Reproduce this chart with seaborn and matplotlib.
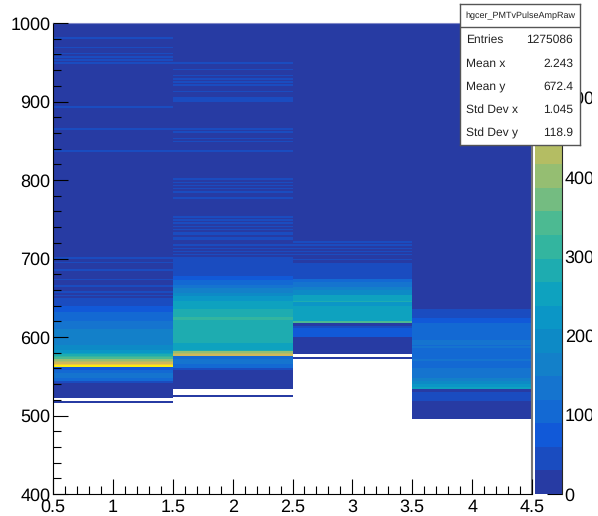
"""2D histogram of hgcer PMT vs raw pulse amplitude."""

import matplotlib.pyplot as plt
import numpy as np
import pandas as pd
import seaborn as sns
from matplotlib.colors import ListedColormap
from matplotlib.ticker import MultipleLocator
from matplotlib.transforms import Bbox

# lower edge of each band of 2-wide bins, and the count in that band
pmt1_edges = [400, 516, 518, 522, 542, 544, 548, 554, 558, 562, 564, 566, 568, 570, 572, 574, 576, 578, 580, 584, 590,
              610, 620, 632, 640, 650]
pmt1_counts = [0, 10, 0, 10, 45, 104, 134, 104, 74, 585, 520, 470, 430, 400, 340, 310, 280, 250, 225, 195, 165,
               134, 105, 75, 45, 10]
pmt1_stripes = [652, 656, 664, 672, 684, 694, 700, 836, 864, 892, 948, 952, 956, 960, 968, 980]

pmt2_edges = [400, 524, 526, 534, 558, 560, 566, 572, 576, 578, 580, 582, 584, 588, 592, 600, 604, 610, 616,
              622, 626, 630, 636, 642, 646, 652, 656, 662, 666, 672, 678, 702]
pmt2_counts = [0, 10, 0, 10, 45, 104, 134, 90, 460, 430, 400, 290, 250, 265, 285, 270, 290, 270, 285,
               300, 270, 285, 260, 240, 215, 195, 165, 134, 104, 75, 45, 10]
pmt2_stripes = [704, 708, 712, 716, 724, 726, 730, 732, 736, 740, 744, 748, 752, 776, 784, 788, 792, 796, 800,
                836, 848, 852, 860, 864, 900, 902, 904, 912, 920, 924, 928, 932, 940, 948]

pmt3_edges = [400, 572, 574, 578, 600, 606, 612, 614, 618, 620, 640, 644, 646, 654, 660, 664, 670, 674, 694]
pmt3_counts = [0, 10, 0, 10, 60, 74, 45, 10, 340, 252, 235, 290, 252, 200, 165, 134, 104, 45, 10]
pmt3_stripes = [698, 704, 708, 712, 716, 720]

pmt4_edges = [400, 496, 518, 530, 534, 536, 540, 544, 548, 560, 570, 572, 586, 588, 590, 596, 610, 618, 624, 636]
pmt4_counts = [0, 10, 45, 10, 252, 220, 190, 150, 125, 110, 130, 110, 140, 110, 125, 100, 90, 75, 45, 10]
pmt4_stripes = []

pmt_bins = [1, 2, 3, 4]
stripe_count = 45

palette = [
    "#273ba3", "#1a4cc0", "#1159d8", "#1369d3", "#1574cf", "#1380c9", "#0d8ac6", "#0b96c6", "#0ea2bf", "#1eacb0",
    "#33b59f", "#4cba92", "#74bc81", "#95be72", "#b4bd63", "#d0b859", "#e6bd4c", "#f2c838", "#f8da25", "#f9ee14",
]
count_max = 594

stats_title = "hgcer_PMTvPulseAmpRaw"
stats_names = ["Entries", "Mean x", "Mean y", "Std Dev x", "Std Dev y"]
stats_values = ["1275086", "2.243", "672.4", "1.045", "118.9"]

W, H = 598, 516


def build_table():
    bins = np.arange(400, 1000, 2)
    rows = []
    columns = [
        (pmt1_edges, pmt1_counts, pmt1_stripes),
        (pmt2_edges, pmt2_counts, pmt2_stripes),
        (pmt3_edges, pmt3_counts, pmt3_stripes),
        (pmt4_edges, pmt4_counts, pmt4_stripes),
    ]
    for pmt, (edges, counts, stripes) in zip(pmt_bins, columns):
        idx = np.searchsorted(edges, bins, side="right") - 1
        values = np.array(counts, dtype=float)[idx]
        values[np.isin(bins, stripes)] = stripe_count
        rows.append(pd.DataFrame({"pmt": pmt, "amp": bins + 1, "count": values}))
    return pd.concat(rows)


def px_axes(fig, x0, y0, x1, y1, **kwargs):
    return fig.add_axes([x0 / W, 1 - y1 / H, (x1 - x0) / W, (y1 - y0) / H], **kwargs)


def main():
    sns.set_style("ticks")
    plt.rcParams["font.family"] = ["Liberation Sans", "DejaVu Sans"]
    plt.rcParams["text.hinting"] = "no_hinting"
    plt.rcParams["text.hinting_factor"] = 1

    fig = plt.figure(figsize=(W / 100, H / 100), dpi=100)
    ax = px_axes(fig, 53, 23, 532, 494)
    cax = px_axes(fig, 535, 23, 562, 494)

    sns.histplot(
        data=build_table(), x="pmt", y="amp", weights="count", ax=ax,
        bins=(4, 300), binrange=((0.5, 4.5), (400, 1000)), thresh=0,
        cmap=ListedColormap(palette), vmin=0, vmax=count_max,
        cbar=True, cbar_ax=cax,
    )
    ax.set_xlabel("")
    ax.set_ylabel("")
    ax.set_xlim(0.5, 4.5)
    ax.set_ylim(400, 1000)
    ax.set_axisbelow(False)

    ax.xaxis.set_major_locator(MultipleLocator(0.5))
    ax.xaxis.set_minor_locator(MultipleLocator(0.1))
    ax.yaxis.set_major_locator(MultipleLocator(100))
    ax.yaxis.set_minor_locator(MultipleLocator(20))
    ax.xaxis.set_major_formatter(lambda v, pos: f"{v:g}")
    ax.tick_params(which="major", direction="in", length=10.8, width=0.8, color="black", labelcolor="black",
                   labelsize=13.2)
    ax.tick_params(which="minor", direction="in", length=5.6, width=0.8, color="black")
    ax.tick_params(axis="x", which="major", pad=3.5)
    ax.tick_params(axis="y", which="major", pad=2)
    ax.spines["left"].set_color("black")
    ax.spines["bottom"].set_color("black")
    ax.spines["right"].set_visible(True)
    ax.spines["top"].set_visible(True)
    ax.spines["right"].set_color("#777777")
    ax.spines["right"].set_linewidth(1.5)
    ax.spines["top"].set_color("#8088c8")

    cbar = ax.collections[0].colorbar
    cbar.outline.set_visible(False)
    cbar.set_ticks([0, 100, 200, 300, 400, 500])
    cax.tick_params(axis="y", direction="in", length=10.8, width=0.8, color="black", labelcolor="black",
                    labelsize=13.2, pad=2, right=True, left=False)
    cax.spines["right"].set_visible(True)
    # tick labels run off the edge of the canvas in the original
    for label in cax.get_yticklabels():
        label.set_clip_box(Bbox([[0, 0], [592, H]]))
        label.set_clip_on(True)

    # stats box
    box = px_axes(fig, 460, 4, 580, 145, zorder=5, facecolor="white")
    box.set_xlim(460, 580)
    box.set_ylim(145, 4)
    box.set_xticks([])
    box.set_yticks([])
    for spine in box.spines.values():
        spine.set_visible(True)
        spine.set_color("#555555")
        spine.set_linewidth(1.0)
    box.axhline(27, color="#555555", lw=1.0)
    box.text(520, 15.5, stats_title, ha="center", va="center", fontsize=6.8, color="#222222")
    for i, (name, value) in enumerate(zip(stats_names, stats_values)):
        row = 40 + i * 23.3
        box.text(466, row, name, ha="left", va="center", fontsize=8.8, color="#222222")
        box.text(573, row, value, ha="right", va="center", fontsize=8.8, color="#222222")

    fig.savefig("out.png", dpi=100)


if __name__ == '__main__':
    main()
